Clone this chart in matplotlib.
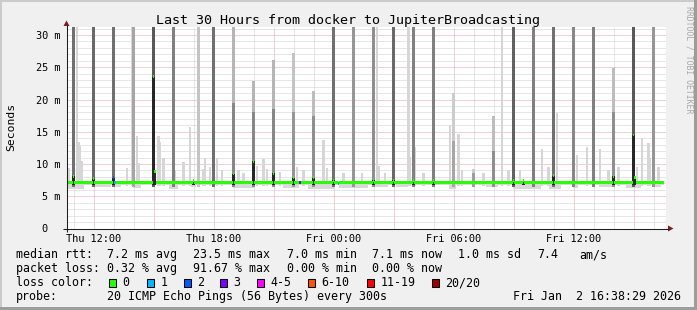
import numpy as np
import matplotlib.pyplot as plt
from matplotlib.patches import Rectangle, Polygon
from matplotlib.transforms import offset_copy

plt.rcParams['font.family'] = 'DejaVu Sans Mono'

W, H = 697, 310

title = 'Last 30 Hours from docker to JupiterBroadcasting'

# time is in hours since Thu 00:00, smokeping step = 5 minutes
first_step, last_step = 129, 486      # 10:45 ... Fri 16:30 (in steps of 5 min)

# hourly latency spikes: top of the smoke (ms, 40 = off the chart),
# top of the denser core and share of pings in the spike
spike_hours = [11, 12, 13, 14, 15, 16, 17.25, 18, 19, 20, 21, 22, 23, 24, 25,
               26, 27, 28, 29, 30, 31, 32, 33, 34, 35, 36, 37, 38, 39, 40]
spike_top = [40, 40, 40, 40, 40, 40, 40, 40, 40, 22.8, 26.2, 27.2, 21.3, 40, 40,
             40, 40, 40, 40, 21.0, 9.2, 17.5, 40, 40, 40, 40, 40, 24.9, 40, 40]
spike_core = [40, 40, 40, 40, 40, 40, 40, 40, 19.5, 18.0, 18.5, 18.0, 17.5, 40, 40,
              40, 40, 40, 40, 13.5, 8.6, 12.0, 40, 40, 40, 40, 40, 18.0, 40, 40]
spike_share = [0.7, 0.75, 0.7, 0.35, 0.85, 0.6, 0.15, 0.7, 0.55, 0.55, 0.55, 0.45, 0.5, 0.7, 0.45,
               0.5, 0.75, 0.6, 0.6, 0.35, 0.4, 0.5, 0.8, 0.6, 0.7, 0.55, 0.6, 0.5, 0.85, 0.45]

# lighter smoke between the spikes
smoke_hours = [10.75, 11.17, 11.25, 11.33, 11.42, 13.67, 13.92, 14.17, 14.25, 15.25,
               15.33, 15.5, 16.08, 16.5, 16.83, 17.5, 17.58, 17.83, 18.17, 18.42,
               19.25, 19.5, 20.17, 20.5, 20.67, 21.33, 22.17, 22.5, 23.5, 23.67,
               24.5, 25.42, 26.17, 26.25, 26.58, 27.75, 27.83, 28.08, 28.5, 29.83,
               30.25, 30.42, 31.5, 32.42, 32.75, 33.33, 34.42, 34.75, 35.17, 36.17,
               36.67, 37.33, 37.75, 38.25, 39.17, 39.42, 39.75, 39.83, 40.25]
smoke_top = [9.4, 40, 13.4, 12.8, 10.5, 9.4, 40, 14.4, 10.2, 14.4,
             13.4, 11.0, 9.0, 10.3, 15.7, 9.2, 11.0, 9.5, 10.9, 9.0,
             9.0, 8.6, 9.7, 10.8, 9.2, 8.8, 9.6, 9.0, 13.8, 9.4,
             8.6, 8.6, 40, 9.7, 8.6, 40, 11.1, 12.6, 8.6, 16.0,
             14.6, 9.0, 8.6, 40, 9.0, 9.0, 12.4, 9.5, 17.9, 11.4,
             12.7, 12.4, 9.0, 9.6, 9.5, 14.0, 13.2, 11.0, 9.6]

# usual spread of the pings around the median, and stretches where it dips lower
smoke_floor, smoke_ceiling = 6.8, 7.4
dip_from = [10.75, 12.08, 13.08, 14.0, 15.83, 16.92, 19.0, 21.5, 22.75, 24.33,
            26.0, 27.17, 29.83, 31.67, 33.0, 34.83, 36.0, 37.33, 38.67, 40.0]
dip_to = [11.5, 12.83, 13.33, 14.33, 16.17, 17.08, 20.0, 22.25, 24.0, 25.67,
          26.67, 27.67, 30.08, 32.17, 34.33, 35.33, 36.17, 38.0, 39.33, 40.33]
dip_low = [6.2, 6.4, 6.5, 6.3, 6.2, 6.4, 6.3, 6.3, 6.2, 6.3,
           6.4, 6.4, 6.2, 6.4, 6.2, 6.1, 6.3, 6.4, 6.3, 6.4]

# median rtt (ms): baseline, plus the steps where it moves or loses pings
median_base = 7.1
med_hours = [11, 12, 13, 13.08, 15, 15.08, 17, 19, 20, 21, 22, 22.33, 23, 24, 24.25,
             26, 27, 28, 29, 33, 33.5, 35, 38, 39, 39.08]
med_vals = [8.1, 7.7, 7.9, 7.1, 23.5, 8.8, 7.4, 8.5, 10.4, 8.6, 7.9, 7.1, 7.9, 7.5, 7.0,
            7.5, 7.5, 7.4, 7.4, 7.4, 7.4, 8.2, 8.1, 14.5, 7.9]
med_loss = [0, 0, 2, 1, 0, 0, 0, 0, 0, 0, 0, 3, 0, 0, 1,
            0, 0, 0, 0, 0, 0, 0, 0, 0, 0]

loss_labels = ['0', '1', '2', '3', '4-5', '6-10', '11-19', '20/20']
loss_colors = ['#26ff00', '#00b8ff', '#0059ff', '#7e00ff', '#ff00ff', '#ff5500', '#ff0000', '#a00000']

y_ticks = [0, 5, 10, 15, 20, 25, 30]
y_labels = ['0', '5 m', '10 m', '15 m', '20 m', '25 m', '30 m']
x_ticks = [12, 18, 24, 30, 36]
x_labels = ['Thu 12:00', 'Thu 18:00', 'Fri 00:00', 'Fri 06:00', 'Fri 12:00']

rtt_stats = ['7.2 ms avg', '23.5 ms max', '7.0 ms min', '7.1 ms now', '1.0 ms sd', '7.4', 'am/s']
loss_stats = ['0.32 % avg', '91.67 % max', '0.00 % min', '0.00 % now']
probe_text = '20 ICMP Echo Pings (56 Bytes) every 300s'
stamp = 'Fri Jan  2 16:38:29 2026'

# ------------------------------------------------------------------
fig = plt.figure(figsize=(W / 100, H / 100), dpi=100)
fig.patch.set_facecolor('#f0f0f0')

left, right, top, bottom = 66.5, 665.5, 27.3, 228.5
ax = fig.add_axes([left / W, (H - bottom) / H, (right - left) / W, (bottom - top) / H])
ax.set_xlim(12 - (93.5 - left) / 20, 12 + (right - 93.5) / 20)
ax.set_ylim(0, 31.2)
ax.set_facecolor('white')
for s in ax.spines.values():
    s.set_visible(False)

step = 1 / 12
steps = np.arange(first_step, last_step + 1) / 12
dots = (0, (1, 1))

# grid (under the smoke)
for hr in range(11, 41):
    ax.axvline(hr, color='#e2a4a4' if hr % 3 == 0 else '#cfcfcf', lw=0.72, ls=dots, zorder=0.5)
for v in range(1, 32):
    ax.axhline(v, color='#e2a4a4' if v % 5 == 0 else '#cfcfcf', lw=0.72, ls=dots, zorder=0.5)

# base smoke
lo = np.full(steps.size, smoke_floor)
for a, b, v in zip(dip_from, dip_to, dip_low):
    lo[(steps > a - 0.01) & (steps < b + 0.01)] = v
ax.bar(steps, smoke_ceiling - lo, width=step, bottom=lo, color='#d8d8d8',
       lw=0, antialiased=False, zorder=1)

# light smoke
sm_top = np.array(smoke_top)
ax.bar(smoke_hours, sm_top - 6.6, width=0.11, bottom=6.6, color='#d6d6d6',
       lw=0, zorder=2)

# spikes
share = np.array(spike_share)
grey = 0.86 - 0.6 * share
outer = np.minimum(grey + 0.18, 0.8)
s_top = np.array(spike_top)
s_core = np.array(spike_core)
ax.bar(spike_hours, s_top - 6.4, width=0.11, bottom=6.4,
       color=[str(g) for g in outer], lw=0, zorder=3)
ax.bar(spike_hours, s_core - 6.4, width=0.11, bottom=6.4,
       color=[str(g) for g in grey], lw=0, zorder=3)

# median
med = np.full(steps.size, median_base)
loss = np.zeros(steps.size, dtype=int)
idx = np.rint(np.array(med_hours) * 12).astype(int) - first_step
med[idx] = med_vals
loss[idx] = med_loss
up = med > median_base + 0.3
ax.bar(steps[up], med[up] - 6.8, width=0.11, bottom=6.8, color='#262626',
       lw=0, zorder=4)
ax.bar(steps, 0.46, width=step, bottom=med - 0.23,
       color=[loss_colors[i] for i in loss], lw=0, antialiased=False, zorder=6)

ax.set_xticks(x_ticks, x_labels, fontsize=7.4)
ax.tick_params(axis='x', length=0, pad=4)
ax.set_yticks([])
ytr = ax.get_yaxis_transform()
for v, lab in zip(y_ticks, y_labels):
    shift = -6.5 if lab != '0' else -19.5
    ax.text(0, v, lab, fontsize=7.4, ha='right', va='center_baseline',
            transform=offset_copy(ytr, fig=fig, x=shift, y=0, units='dots'))

# ------------------------------------------------------------------
# frame, axes arrows and legend drawn in pixel coordinates
ov = fig.add_axes([0, 0, 1, 1], facecolor='none')
ov.set_xlim(0, W)
ov.set_ylim(H, 0)
ov.axis('off')

ov.add_patch(Rectangle((0, 0), W, 2, color='#cbcbcb', lw=0))
ov.add_patch(Rectangle((0, 0), 2, H, color='#cbcbcb', lw=0))
ov.add_patch(Rectangle((0, H - 3), W, 3, color='#9c9c9c', lw=0))
ov.add_patch(Rectangle((W - 3, 0), 3, H, color='#9c9c9c', lw=0))

ov.plot([62.5, 669], [bottom, bottom], color='#1e1e1e', lw=0.75, solid_capstyle='butt')
ov.plot([left, left], [232, 25], color='#1e1e1e', lw=0.75, solid_capstyle='butt')
ov.add_patch(Polygon([(668, 225.5), (673.5, bottom), (668, 231.5)], color='#7f1f1f', lw=0))
ov.add_patch(Polygon([(63.5, 26), (left, 20.5), (69.5, 26)], color='#7f1f1f', lw=0))

ov.text(348, 24, title, fontsize=9.6, ha='center', va='baseline')
ov.text(11, 127, 'Seconds', fontsize=8.2, rotation=90, ha='center', va='center')
ov.text(689, 60, 'RRDTOOL / TOBI OETIKER', fontsize=5.9, rotation=270,
        color='#a8a8a8', ha='center', va='center')

fs = 8.4
col_x = [107, 193, 287, 372, 458, 537, 579]
ov.text(16, 258, 'median rtt:', fontsize=fs, va='baseline')
for x, s in zip(col_x, rtt_stats):
    ov.text(x, 258, s, fontsize=fs, va='baseline')
ov.text(16, 272, 'packet loss:', fontsize=fs, va='baseline')
for x, s in zip(col_x, loss_stats):
    ov.text(x, 272, s, fontsize=fs, va='baseline')
ov.text(16, 286, 'loss color:', fontsize=fs, va='baseline')
box_x = [108, 146, 183, 219, 256, 307, 366, 431]
for x, c, lab in zip(box_x, loss_colors, loss_labels):
    ov.add_patch(Rectangle((x + 0.5, 278.5), 7, 8, facecolor=c, edgecolor='black', lw=0.75))
    ov.text(x + 14.5, 286, lab, fontsize=fs, va='baseline')
ov.text(16, 300, 'probe:', fontsize=fs, va='baseline')
ov.text(107, 300, probe_text, fontsize=fs, va='baseline')
ov.text(513, 300, stamp, fontsize=fs, va='baseline')

fig.savefig('out.png', dpi=100, facecolor=fig.get_facecolor())
